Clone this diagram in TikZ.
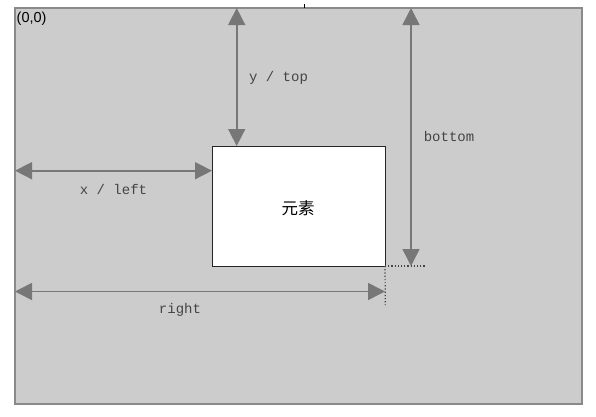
\documentclass[tikz,border=0pt]{standalone}
\usepackage{fontspec}
\setmainfont{Liberation Sans}
\newfontfamily\monof{Liberation Mono}
\newfontfamily\cjk{Noto Sans CJK SC}
\usetikzlibrary{arrows.meta}
\definecolor{bg}{HTML}{CCCCCC}
\definecolor{framegray}{HTML}{8A8A8A}
\definecolor{arrowgray}{HTML}{777777}
\definecolor{labelgray}{HTML}{444444}
\begin{document}
\begin{tikzpicture}[x=1pt,y=-1pt,
  dim/.style={draw=arrowgray, line width=1.6pt,
    {Triangle[width=17pt,length=17pt]}-{Triangle[width=17pt,length=17pt]}},
  lbl/.style={font=\monof\fontsize{14}{16}\selectfont, text=labelgray, inner sep=0pt},
  guide/.style={draw=labelgray, line width=1.2pt, dash pattern=on 1.2pt off 2pt}]
\useasboundingbox (0,0) rectangle (596,416);
\node[draw=framegray, fill=bg, line width=1.5pt, minimum width=567pt,
  minimum height=396pt, inner sep=0pt, outer sep=0pt, anchor=north west] (frame) at (15,8) {};
\draw[line width=1pt, black] (304,4) -- (304,7.5);
\node[anchor=north west, inner sep=0pt, font=\fontsize{14.5}{16}\selectfont] (origin) at (16.5,11.5) {(0,0)};
\node[draw=black!85, fill=white, line width=1pt, minimum width=173pt,
  minimum height=120pt, inner sep=0pt, outer sep=0pt] (elem) at (298.5,206) {};
\node[inner sep=0pt, font=\cjk\fontsize{16.5}{18}\selectfont] (elemtxt) at (298,208) {元素};
% y / top
\coordinate (ytop) at (236.7,8);
\draw[dim] (ytop) -- (ytop |- elem.north);
\node[lbl] (ylbl) at (278.5,77.5) {y / top};
% x / left
\coordinate (xleft) at (15,170.7);
\draw[dim] (xleft) -- (xleft -| elem.west);
\node[lbl] (xlbl) at (113.5,189) {x / left};
% bottom
\coordinate (btop) at (411,8);
\draw[dim] (btop) -- (btop |- elem.south);
\node[lbl] (blbl) at (449,136.5) {bottom};
% right
\coordinate (rleft) at (15,291.5);
\draw[dim] (rleft) -- (rleft -| elem.east);
\node[lbl] (rlbl) at (180,309.5) {right};
% guides
\coordinate (gh) at (425,266);
\coordinate (gv) at (385.3,305);
\draw[guide] (elem.south east) -- (gh);
\draw[guide] (elem.south east) -- (gv);
\end{tikzpicture}
\end{document}
